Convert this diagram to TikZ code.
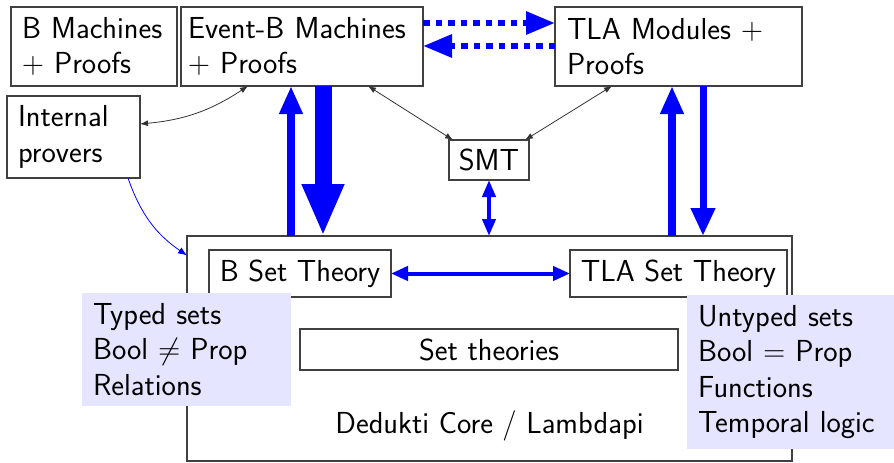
\documentclass[tikz,border=0pt]{standalone}
\usepackage{fix-cm}
\usepackage{fontspec}
\usetikzlibrary{arrows.meta}
\definecolor{notebg}{RGB}{229,229,255}
\begin{document}
\begin{tikzpicture}[x=1pt,y=-1pt,
  every node/.style={font=\sffamily\fontsize{30.4}{35.5}\selectfont, inner ysep=0pt, outer sep=0pt},
  box/.style={draw=black!75, line width=1.1pt, anchor=north west, align=left},
  cbox/.style={draw=black!75, line width=1.1pt, anchor=north west, align=center, inner xsep=0pt},
  note/.style={fill=notebg, anchor=north west, align=left, inner xsep=11pt},
  bigarrow/.style={draw=blue, line cap=butt},
  thinarrow/.style={draw=black!80, line width=0.8pt, {Latex[length=8pt,width=6pt]}-{Latex[length=8pt,width=6pt]}},
]
\useasboundingbox (0,0) rectangle (894,463);
% top boxes
\node[box, minimum width=166pt, minimum height=79pt, inner xsep=11pt, text width=144pt] (bm) at (11,7) {B~Machines\\$+$~Proofs};
\node[box, minimum width=242pt, minimum height=79pt, inner xsep=7pt, text width=228pt] (evb) at (181,7) {Event-B~Machines\\$+$~Proofs};
\node[box, minimum width=133pt, minimum height=82pt, inner xsep=11pt, text width=111pt] (prov) at (7,96) {Internal\\provers};
\node[box, minimum width=247pt, minimum height=79pt, inner xsep=12pt, text width=223pt] (tla) at (555,7) {TLA~Modules~$+$\\Proofs};
\node[cbox, minimum width=80pt, minimum height=40pt] (smt) at (449,140) {SMT};
% core
\node[cbox, minimum width=605pt, minimum height=225pt, text height=190pt, text depth=21pt] (ded) at (187,236) {Dedukti Core / Lambdapi};
\node[cbox, minimum width=182pt, minimum height=47pt] (bst) at (209,250) {B Set Theory};
\node[cbox, minimum width=217pt, minimum height=47pt] (tst) at (570,250) {TLA Set Theory};
\node[cbox, minimum width=378pt, minimum height=41pt] (sett) at (300,329) {Set theories};
% notes
\node[note, minimum width=209pt, minimum height=113pt, text width=187pt] (n1) at (82,293) {Typed sets\\Bool $\neq$ Prop\\Relations};
\node[note, minimum width=207pt, minimum height=154pt, text width=185pt] (n2) at (687,295) {Untyped sets\\Bool $=$ Prop\\Functions\\Temporal logic};
% x positions of the vertical arrows
\coordinate (xa) at (291,0);
\coordinate (xb) at (323,0);
\coordinate (xc) at (672,0);
\coordinate (xd) at (703,0);
% dashed arrows between Event-B and TLA
\draw[bigarrow, line width=6pt, dash pattern=on 6.5pt off 6pt, -{Triangle[length=29pt,width=22pt]}]
  ([yshift=23.5pt]evb.east) -- ([yshift=23.5pt]evb.east -| tla.west);
\draw[bigarrow, line width=6pt, dash pattern=on 6.5pt off 6pt, -{Triangle[length=29pt,width=22pt]}]
  ([yshift=0.5pt]tla.west) -- ([yshift=0.5pt]tla.west -| evb.east);
% vertical arrows
\draw[bigarrow, line width=8pt, -{Triangle[length=28pt,width=22pt]}] (ded.north -| xa) -- (evb.south -| xa);
\draw[bigarrow, line width=17pt, -{Triangle[length=52pt,width=39pt]}] (evb.south -| xb) -- (ded.north -| xb);
\draw[bigarrow, line width=8pt, -{Triangle[length=28pt,width=22pt]}] (ded.north -| xc) -- (tla.south -| xc);
\draw[bigarrow, line width=7pt, -{Triangle[length=28pt,width=23pt]}] (tla.south -| xd) -- (ded.north -| xd);
% SMT to core
\draw[bigarrow, line width=4pt, {Triangle[length=17pt,width=13pt]}-{Triangle[length=17pt,width=13pt]}] (smt.south) -- (smt.south |- ded.north);
% B set theory <-> TLA set theory
\draw[bigarrow, line width=4pt, {Triangle[length=17pt,width=14pt]}-{Triangle[length=17pt,width=14pt]}] (bst.east) -- (tst.west);
% thin black arrows
\draw[thinarrow] ([yshift=13pt]prov.east) to[bend right=14] ([xshift=67pt]evb.south west);
\draw[thinarrow] ([xshift=-55pt]evb.south east) -- ([xshift=4pt]smt.north west);
\draw[thinarrow] ([xshift=57pt]tla.south west) -- ([xshift=-4pt]smt.north east);
% blue thin curve
\draw[blue, line width=0.8pt, -{Latex[length=9pt,width=7pt]}] ([xshift=-12pt]prov.south east) to[bend right=18] ([yshift=93pt]ded.west);
\end{tikzpicture}
\end{document}
